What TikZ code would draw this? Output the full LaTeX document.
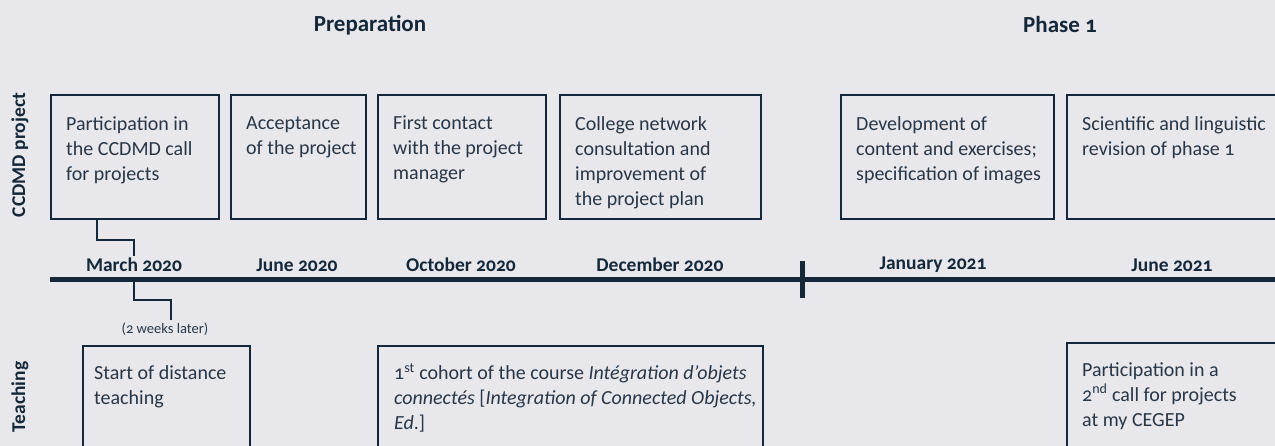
\documentclass[tikz,border=0pt]{standalone}
\usepackage{fontspec}
\setmainfont{Carlito}[Numbers=OldStyle]
\definecolor{bg}{RGB}{232,231,236}
\definecolor{ink}{RGB}{21,40,58}
\definecolor{inktext}{RGB}{40,54,70}
\tikzset{
	box/.style={draw=ink, line width=2.3, anchor=north west, inner sep=0},
	txt/.style={anchor=north west, align=left, text=inktext, inner xsep=16, inner ysep=22,
		font=\fontsize{20}{25}\selectfont},
	date/.style={text=ink, inner sep=2, font=\fontsize{19.5}{22}\selectfont\bfseries},
	side/.style={text=ink, rotate=90, font=\fontsize{19.5}{22}\selectfont\bfseries},
	head/.style={text=ink, font=\fontsize{23}{26}\selectfont\bfseries},
	link/.style={draw=ink, line width=2.3}
}
\begin{document}
\begin{tikzpicture}[x=1pt,y=-1pt]
	\fill[bg] (0,0) rectangle (1275,446);
	\clip (0,0) rectangle (1275,446);

	\node[head] (prep) at (370,25) {Preparation};
	\node[head] (ph1) at (1060,25) {Phase 1};

	\node[side] (lproj) at (20,155) {CCDMD project};
	\node[side] (lteach) at (20,397) {Teaching};

	\node[box, minimum width=168, minimum height=124,
		label={[txt]north west:Participation in\\the CCDMD call\\for projects}] (part) at (50,94) {};
	\node[box, minimum width=135, minimum height=124,
		label={[txt]north west:Acceptance\\of the project}] (accept) at (230,94) {};
	\node[box, minimum width=168, minimum height=124,
		label={[txt]north west:First contact\\with the project\\manager}] (contact) at (377,94) {};
	\node[box, minimum width=201, minimum height=124,
		label={[txt]north west:College network\\consultation and\\improvement of\\the project plan}] (consult) at (559,94) {};
	\node[box, minimum width=213, minimum height=124,
		label={[txt]north west:Development of\\content and exercises;\\specification of images}] (devel) at (840,94) {};
	\node[box, minimum width=240, minimum height=124,
		label={[txt]north west:Scientific and linguistic\\revision of phase 1}] (revis) at (1066,94) {};

	\coordinate (tl) at (50,280);
	\coordinate (tr) at (1285,280);
	\draw[ink, line width=5] (tl) -- (tr);
	\draw[ink, line width=5] (802,261) -- (802,298);

	\node[date] (mar) at (134,265) {March 2020};
	\node[date] (jun) at (297,265) {June 2020};
	\node[date] (oct) at (461,265) {October 2020};
	\node[date] (dec) at (660,265) {December 2020};
	\node[date] (jan) at (933,265) {January 2021};
	\node[date] (junb) at (1172,265) {June 2021};

	\draw[link] (part.south west) ++(47,0) -- ++(0,20) -| (mar.north);

	\coordinate (tmar) at (134,280);
	\node[text=inktext, inner sep=2, font=\fontsize{14.5}{16}\selectfont] (later) at (165,329) {(2 weeks later)};
	\draw[link] (tmar) -- ++(0,20) -| ([xshift=6]later.north);

	\node[box, minimum width=167, minimum height=130,
		label={[txt, inner xsep=12, inner ysep=20]north west:Start of distance\\teaching}] (start) at (82,345) {};
	\node[box, minimum width=385, minimum height=130,
		label={[txt, inner xsep=17, inner ysep=18]north west:1\textsuperscript{st} cohort of the course \textit{Intégration d’objets}\\\textit{connectés} [\textit{Integration of Connected Objects,}\\\textit{Ed}.]}] (cohort) at (377,345) {};
	\node[box, minimum width=240, minimum height=130,
		label={[txt, inner ysep=20]north west:Participation in a\\2\textsuperscript{nd} call for projects\\at my CEGEP}] (second) at (1066,342) {};
\end{tikzpicture}
\end{document}
